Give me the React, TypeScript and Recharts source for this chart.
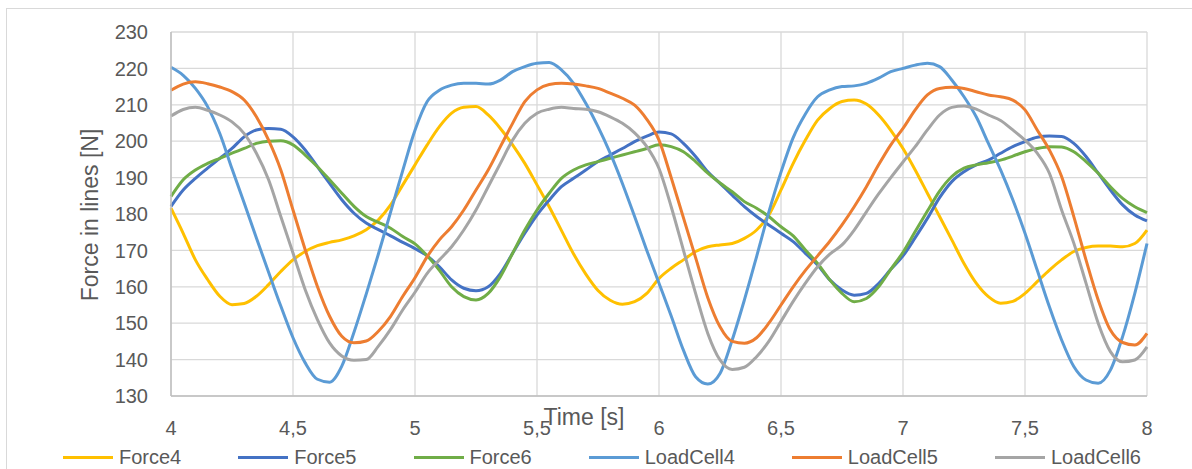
import React from 'react';
import { LineChart, Line, XAxis, YAxis, CartesianGrid } from 'recharts';

// sample times [s]
const time = [
	4.0, 4.05, 4.1, 4.15, 4.2, 4.25, 4.3, 4.35, 4.4, 4.45,
	4.5, 4.55, 4.6, 4.65, 4.7, 4.75, 4.8, 4.85, 4.9, 4.95,
	5.0, 5.05, 5.1, 5.15, 5.2, 5.25, 5.3, 5.35, 5.4, 5.45,
	5.5, 5.55, 5.6, 5.65, 5.7, 5.75, 5.8, 5.85, 5.9, 5.95,
	6.0, 6.05, 6.1, 6.15, 6.2, 6.25, 6.3, 6.35, 6.4, 6.45,
	6.5, 6.55, 6.6, 6.65, 6.7, 6.75, 6.8, 6.85, 6.9, 6.95,
	7.0, 7.05, 7.1, 7.15, 7.2, 7.25, 7.3, 7.35, 7.4, 7.45,
	7.5, 7.55, 7.6, 7.65, 7.7, 7.75, 7.8, 7.85, 7.9, 7.95,
	8.0,
];

const force4 = [
	181.6, 174.7, 167.4, 162.0, 157.4, 155.1, 155.4, 157.4, 160.6, 164.2,
	167.4, 169.7, 171.3, 172.2, 172.9, 174.0, 175.7, 178.4, 182.5, 188.0,
	193.5, 199.0, 204.0, 207.7, 209.3, 209.5, 207.2, 203.5, 199.0, 193.9,
	188.0, 182.0, 175.5, 169.0, 163.5, 159.0, 156.3, 155.2, 155.9, 158.2,
	162.3, 165.1, 167.4, 169.7, 171.0, 171.5, 171.9, 173.3, 175.6, 179.7,
	186.6, 193.9, 200.3, 205.8, 209.0, 210.9, 211.3, 210.2, 207.2, 203.0,
	198.0, 192.1, 185.7, 179.3, 172.9, 166.4, 161.0, 157.3, 155.5, 156.0,
	158.2, 161.4, 164.6, 167.4, 169.7, 170.8, 171.2, 171.2, 171.0, 171.9,
	175.6,
];

const force5 = [
	182.1, 186.6, 189.8, 192.6, 195.3, 198.0, 201.2, 203.1, 203.5, 203.3,
	201.2, 197.6, 193.0, 188.4, 183.9, 180.2, 177.5, 175.7, 174.0, 172.2,
	170.5, 168.5, 165.5, 161.9, 159.6, 158.9, 160.0, 163.7, 169.2, 174.7,
	179.7, 183.8, 187.5, 189.8, 192.1, 194.4, 196.2, 198.0, 199.9, 201.4,
	202.5, 202.0, 199.4, 195.8, 191.6, 188.4, 185.2, 182.0, 179.3, 177.0,
	174.7, 172.4, 169.2, 166.0, 161.9, 159.1, 157.7, 158.2, 160.9, 164.8,
	168.5, 173.5, 178.8, 184.5, 188.9, 191.6, 193.5, 194.8, 196.7, 198.5,
	199.9, 201.1, 201.4, 201.3, 199.4, 195.8, 191.2, 186.6, 182.5, 179.7,
	178.1,
];

const force6 = [
	184.8, 189.4, 192.1, 193.9, 195.3, 196.7, 198.0, 199.4, 200.0, 200.1,
	199.0, 196.2, 193.0, 189.4, 185.7, 182.1, 179.3, 177.7, 176.1, 173.8,
	171.8, 168.5, 164.5, 160.0, 157.3, 156.4, 158.2, 162.8, 169.2, 175.6,
	181.1, 185.7, 189.8, 192.1, 193.5, 194.4, 195.3, 196.2, 197.1, 198.0,
	199.0, 198.5, 197.1, 194.4, 191.2, 188.5, 186.1, 183.4, 181.6, 179.3,
	176.5, 174.0, 170.1, 166.4, 161.9, 158.2, 155.9, 156.8, 160.0, 164.8,
	169.5, 175.2, 180.8, 186.3, 190.3, 192.6, 193.5, 194.1, 194.8, 195.9,
	197.1, 198.0, 198.5, 198.4, 197.1, 194.4, 191.2, 187.5, 184.3, 182.0,
	180.4,
];

const loadCell4 = [
	220.3, 218.1, 214.5, 209.5, 202.1, 192.4, 183.0, 173.4, 164.0, 154.7,
	146.0, 139.1, 134.6, 133.8, 138.2, 147.5, 158.0, 169.0, 180.5, 192.0,
	203.0, 210.9, 214.0, 215.4, 215.9, 215.9, 215.7, 216.8, 219.1, 220.5,
	221.4, 221.6, 219.6, 215.9, 210.4, 204.0, 196.7, 188.4, 179.3, 170.0,
	161.0, 152.0, 142.6, 135.3, 133.3, 136.2, 145.4, 156.4, 168.3, 180.5,
	191.5, 201.0, 207.5, 212.2, 214.1, 215.0, 215.2, 215.9, 217.3, 219.1,
	220.0, 220.9, 221.4, 220.5, 216.8, 212.2, 206.7, 199.4, 192.1, 183.9,
	174.7, 164.6, 154.5, 145.4, 138.1, 134.4, 133.5, 137.1, 146.3, 158.2,
	171.9,
];

const loadCell5 = [
	214.0, 215.7, 216.3, 215.8, 214.9, 213.6, 211.3, 206.7, 200.3, 192.1,
	181.1, 170.2, 160.1, 151.9, 146.4, 144.6, 145.1, 147.8, 151.9, 157.4,
	162.5, 168.3, 172.9, 176.5, 181.1, 186.6, 192.1, 198.5, 204.9, 210.9,
	214.1, 215.6, 215.9, 215.7, 215.2, 214.5, 213.2, 211.8, 209.9, 206.0,
	200.3, 190.0, 179.0, 168.0, 157.0, 149.0, 145.0, 144.5, 146.0, 150.0,
	155.0, 160.0, 164.5, 168.5, 172.5, 177.0, 182.0, 187.5, 193.5, 199.0,
	203.5, 208.6, 212.7, 214.5, 214.8, 214.5, 213.6, 212.7, 212.2, 211.3,
	208.6, 203.1, 197.6, 190.3, 179.3, 167.4, 156.4, 148.1, 144.7, 144.0,
	147.2,
];

const loadCell6 = [
	206.9, 208.7, 209.3, 208.5, 207.2, 205.3, 202.1, 196.7, 189.4, 179.3,
	169.3, 159.2, 151.0, 144.6, 141.0, 139.8, 140.0, 143.7, 148.3, 153.7,
	158.5, 163.7, 167.4, 171.0, 175.6, 181.1, 187.5, 193.9, 200.3, 204.9,
	207.7, 208.8, 209.3, 209.0, 208.8, 208.1, 206.7, 204.9, 202.3, 198.5,
	192.5, 182.0, 170.1, 158.2, 147.2, 139.9, 137.3, 137.9, 140.8, 145.0,
	150.5, 156.0, 161.0, 165.5, 169.0, 171.5, 175.6, 180.6, 185.5, 190.0,
	194.3, 198.5, 203.1, 207.2, 209.3, 209.7, 208.8, 207.2, 205.7, 203.1,
	200.3, 196.7, 191.2, 181.1, 172.0, 161.0, 150.0, 142.2, 139.4, 139.9,
	143.5,
];

const xTicks = [4, 4.5, 5, 5.5, 6, 6.5, 7, 7.5, 8];
const yTicks = [130, 140, 150, 160, 170, 180, 190, 200, 210, 220, 230];

const seriesNames = ['Force4', 'Force5', 'Force6', 'LoadCell4', 'LoadCell5', 'LoadCell6'];
const seriesValues = [force4, force5, force6, loadCell4, loadCell5, loadCell6];
const seriesColors = ['#FFC000', '#4472C4', '#70AD47', '#5B9BD5', '#ED7D31', '#A5A5A5'];

const rows = time.map((t, i) =>
{
	const row: Record<string, number> = { t };
	seriesNames.forEach((name, k) => { row[name] = seriesValues[k][i]; });
	return row;
});

const FONT = '"Liberation Sans", Arial, sans-serif';
const TEXT = '#595959';

export default function App()
{
	return (
		<div style={ { position: 'absolute', left: 0, top: 0, width: 1192, height: 469, background: '#fff', overflow: 'hidden', fontFamily: FONT } }>
			<div style={ { position: 'absolute', left: 6, top: 8, width: 1220, height: 500, border: '1px solid #d9d9d9' } } />
			<div style={ { position: 'absolute', left: 0, top: 0 } }>
				<LineChart
					width={ 1192 }
					height={ 469 }
					data={ rows }
					margin={ { top: 32, right: 45, left: 0, bottom: 0 } }
				>
					<CartesianGrid stroke="#d9d9d9" strokeWidth={ 1.3 } />
					<XAxis
						dataKey="t"
						type="number"
						domain={ [4, 8] }
						ticks={ xTicks }
						interval={ 0 }
						height={ 73 }
						tickSize={ 0 }
						tickMargin={ 25 }
						tickLine={ false }
						axisLine={ { stroke: '#bfbfbf', strokeWidth: 1.5 } }
						tick={ { fill: TEXT, fontSize: 20, fontFamily: FONT } }
						tickFormatter={ (v: number) => String(v).replace('.', ',') }
					/>
					<YAxis
						type="number"
						domain={ [130, 230] }
						ticks={ yTicks }
						interval={ 0 }
						width={ 171 }
						tickSize={ 0 }
						tickMargin={ 23 }
						tickLine={ false }
						axisLine={ { stroke: '#bfbfbf', strokeWidth: 1.5 } }
						tick={ { fill: TEXT, fontSize: 20, fontFamily: FONT } }
					/>
					{ seriesNames.map((name, k) => (
						<Line
							key={ name }
							type="monotone"
							dataKey={ name }
							stroke={ seriesColors[k] }
							strokeWidth={ 3 }
							dot={ false }
							isAnimationActive={ false }
						/>
					)) }
				</LineChart>
			</div>
			<div style={ { position: 'absolute', left: 584, top: 417, transform: 'translate(-50%, -50%)', fontSize: 23, lineHeight: 1, color: TEXT, whiteSpace: 'nowrap' } }>
				Time [s]
			</div>
			<div style={ { position: 'absolute', left: 90, top: 215, transform: 'translate(-50%, -50%) rotate(-90deg)', fontSize: 23, lineHeight: 1, color: TEXT, whiteSpace: 'nowrap' } }>
				Force in lines [N]
			</div>
			<div style={ { position: 'absolute', left: 63, top: 445, height: 24, display: 'flex', alignItems: 'center' } }>
				{ seriesNames.map((name, k) => (
					<div key={ name } style={ { display: 'flex', alignItems: 'center', marginRight: 57 } }>
						<span style={ { display: 'inline-block', width: 50, height: 3, background: seriesColors[k], marginRight: 6 } } />
						<span style={ { fontSize: 20, color: TEXT, lineHeight: 1, whiteSpace: 'nowrap' } }>{ name }</span>
					</div>
				)) }
			</div>
		</div>
	);
}
